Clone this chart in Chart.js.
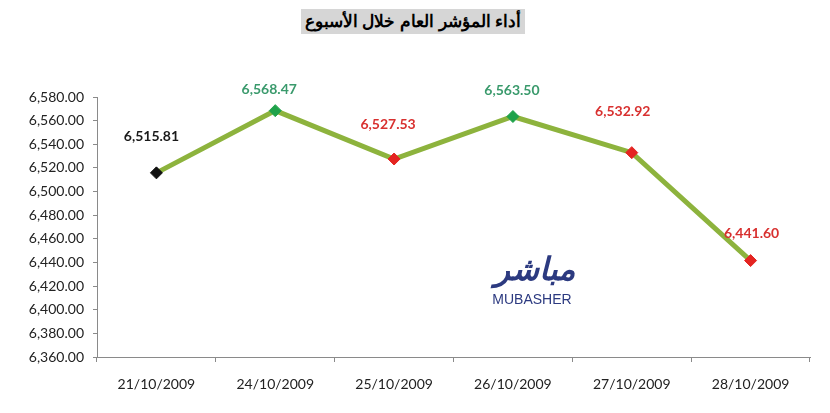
<!DOCTYPE html>
<html>
<head>
<meta charset="utf-8">
<script src="https://cdn.jsdelivr.net/npm/chart.js@4.4.0/dist/chart.umd.min.js"></script>
<style>
  html, body { margin: 0; padding: 0; background: #fff; }
  #wrap { position: relative; width: 830px; height: 413px; }
  #title {
    position: absolute; left: 301px; top: 9px; width: 224px; height: 25px;
    background: #d6d6d6; color: #000; font: bold 17px "Liberation Sans", Arial, sans-serif;
    text-align: center; line-height: 25px; direction: rtl;
  }
  #logoAr {
    position: absolute; left: 490px; top: 250px; width: 90px; text-align: center;
    color: #2c3a80; font: bold 32px "DejaVu Sans", sans-serif; direction: rtl; font-style: italic;
  }
  #logoEn {
    position: absolute; left: 490px; top: 291px; width: 84px; text-align: center;
    color: #2c3a80; font: 14px "Liberation Sans Narrow", "Liberation Sans", sans-serif;
  }
</style>
</head>
<body>
<div id="wrap">
  <canvas id="chart" width="830" height="413"></canvas>
  <div id="title">أداء المؤشر العام خلال الأسبوع</div>
  <div id="logoAr">مباشر</div>
  <div id="logoEn">MUBASHER</div>
</div>
<script>
const dates = ['21/10/2009', '24/10/2009', '25/10/2009', '26/10/2009', '27/10/2009', '28/10/2009'];
const indexValues = [6515.81, 6568.47, 6527.53, 6563.50, 6532.92, 6441.60];
const yTicks = [6360, 6380, 6400, 6420, 6440, 6460, 6480, 6500, 6520, 6540, 6560, 6580];

// colour of each point: first neutral, then up (green) or down (red)
const pointColors = ['#111111', '#1fa24a', '#e42421', '#1fa24a', '#e42421', '#e42421'];
const labelColors = ['#1a1a1a', '#3a9a6c', '#d8302f', '#3a9a6c', '#d8302f', '#d8302f'];
// label placement relative to its point (px)
const labelOffsets = [[-5, -36], [-6, -21], [-6, -35], [-1, -26], [-9, -41], [1, -27]];

const fmt = v => v.toLocaleString('en-US', { minimumFractionDigits: 2, maximumFractionDigits: 2 });

const valueLabels = {
    id: 'valueLabels',
    afterDatasetsDraw(chart) {
        const ctx = chart.ctx;
        const meta = chart.getDatasetMeta(0);
        ctx.save();
        ctx.font = 'bold 14px Lato, sans-serif';
        ctx.textAlign = 'center';
        ctx.textBaseline = 'middle';
        meta.data.forEach((pt, i) => {
            ctx.fillStyle = labelColors[i];
            ctx.fillText(fmt(indexValues[i]), pt.x + labelOffsets[i][0], pt.y + labelOffsets[i][1]);
        });
        ctx.restore();
    }
};

new Chart(document.getElementById('chart'), {
    type: 'line',
    data: {
        labels: dates,
        datasets: [{
            data: indexValues,
            borderColor: '#8db33d',
            borderWidth: 5,
            tension: 0,
            pointStyle: 'rectRot',
            pointRadius: 6,
            pointBackgroundColor: pointColors,
            pointBorderColor: pointColors,
            pointBorderWidth: 1
        }]
    },
    options: {
        responsive: false,
        animation: false,
        layout: { padding: { left: 20, right: 20, top: 97, bottom: 20 } },
        plugins: { legend: { display: false }, tooltip: { enabled: false } },
        scales: {
            x: {
                offset: true,
                grid: {
                    display: true, drawOnChartArea: false, offset: true,
                    color: '#8a8a8a', tickLength: 5
                },
                border: { color: '#8a8a8a', width: 1 },
                ticks: { color: '#222', font: { family: 'Lato', size: 14 }, padding: 14, maxRotation: 0 },
                afterFit(scale) { scale.height = 36; }
            },
            y: {
                min: 6360,
                max: 6580,
                afterBuildTicks(scale) { scale.ticks = yTicks.map(v => ({ value: v })); },
                grid: { display: true, drawOnChartArea: false, color: '#8a8a8a', tickLength: 4 },
                border: { color: '#8a8a8a', width: 1 },
                ticks: { color: '#222', font: { family: 'Lato', size: 14 }, padding: 9, callback: v => fmt(v) },
                afterFit(scale) { scale.width = 77; }
            }
        }
    },
    plugins: [valueLabels]
});
</script>
</body>
</html>
